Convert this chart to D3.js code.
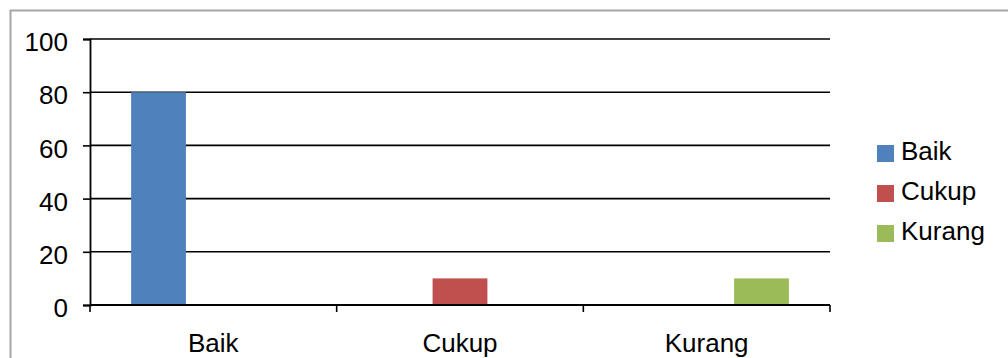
<!DOCTYPE html>
<html>
<head>
<meta charset="utf-8">
<script src="https://cdn.jsdelivr.net/npm/d3@7"></script>
<style>
  html, body { margin: 0; padding: 0; background: #fff; }
  svg { display: block; font-family: "Liberation Sans", Arial, sans-serif; }
</style>
</head>
<body>
<svg id="chart" width="1008" height="358"></svg>
<script>
// Categories on the x axis
const categories = ["Baik", "Cukup", "Kurang"];
// Series names (legend order)
const seriesNames = ["Baik", "Cukup", "Kurang"];
// Values per series, one entry per category
const seriesBaik = [80, 0, 0];
const seriesCukup = [0, 10, 0];
const seriesKurang = [0, 0, 10];
// Y-axis tick values
const yTicks = [0, 20, 40, 60, 80, 100];

const seriesValues = [seriesBaik, seriesCukup, seriesKurang];
const colors = ["#4F81BD", "#C0504D", "#9BBB59"];

const svg = d3.select("#chart");

// Outer chart frame
svg.append("rect")
  .attr("x", 10.5).attr("y", 10.5)
  .attr("width", 1010).attr("height", 360)
  .attr("fill", "none").attr("stroke", "#a6a6a6").attr("stroke-width", 2);

const plot = { left: 90, right: 830, top: 39, bottom: 305 };

const y = d3.scaleLinear().domain([0, 100]).range([plot.bottom, plot.top]);
const x0 = d3.scaleBand().domain(categories).range([plot.left, plot.right])
  .paddingInner(0).paddingOuter(0);
// 150% gap width: group of 3 bars occupies 3/4.5 of the category
const x1 = d3.scaleBand().domain(seriesNames)
  .range([x0.bandwidth() * 0.75 / 4.5, x0.bandwidth() - x0.bandwidth() * 0.75 / 4.5])
  .padding(0);

// Horizontal gridlines
svg.append("g")
  .selectAll("line")
  .data(yTicks)
  .join("line")
  .attr("x1", plot.left).attr("x2", plot.right)
  .attr("y1", d => y(d)).attr("y2", d => y(d))
  .attr("stroke", "#000").attr("stroke-width", 1.6);

// Bars
const groups = svg.append("g")
  .selectAll("g")
  .data(categories)
  .join("g")
  .attr("transform", d => `translate(${x0(d)},0)`);

groups.selectAll("rect")
  .data((c, ci) => seriesNames.map((s, si) => ({ s, si, v: seriesValues[si][ci] })))
  .join("rect")
  .attr("x", d => x1(d.s))
  .attr("width", x1.bandwidth())
  .attr("y", d => y(d.v))
  .attr("height", d => y(0) - y(d.v))
  .attr("fill", d => colors[d.si]);

// Y axis
const yAxis = svg.append("g")
  .attr("transform", `translate(${plot.left},0)`)
  .call(d3.axisLeft(y).tickValues(yTicks).tickSize(7).tickPadding(15).tickFormat(d3.format("d")));
yAxis.select(".domain").attr("stroke", "#000").attr("stroke-width", 1.8);
yAxis.selectAll(".tick line").attr("stroke", "#000").attr("stroke-width", 1.6);
yAxis.selectAll(".tick text")
  .attr("font-size", 26).attr("fill", "#000")
  .attr("font-family", "Liberation Sans, Arial, sans-serif")
  .attr("dy", "0.45em");

// X axis with ticks on category boundaries
const boundaries = [plot.left, ...categories.map(c => x0(c) + x0.bandwidth())];
const xAxis = svg.append("g");
xAxis.append("line")
  .attr("x1", plot.left).attr("x2", plot.right)
  .attr("y1", plot.bottom).attr("y2", plot.bottom)
  .attr("stroke", "#000").attr("stroke-width", 1.8);
xAxis.selectAll("line.tick")
  .data(boundaries)
  .join("line")
  .attr("class", "tick")
  .attr("x1", d => d).attr("x2", d => d)
  .attr("y1", plot.bottom).attr("y2", plot.bottom + 7)
  .attr("stroke", "#000").attr("stroke-width", 1.6);
xAxis.selectAll("text")
  .data(categories)
  .join("text")
  .attr("x", d => x0(d) + x0.bandwidth() / 2)
  .attr("y", 352)
  .attr("text-anchor", "middle")
  .attr("font-size", 26)
  .attr("fill", "#000")
  .text(d => d);

// Legend
const legend = svg.append("g");
const legendY = [145, 185, 225];
seriesNames.forEach((s, i) => {
  legend.append("rect")
    .attr("x", 877).attr("y", legendY[i])
    .attr("width", 17).attr("height", 17)
    .attr("fill", colors[i]);
  legend.append("text")
    .attr("x", 901).attr("y", legendY[i] + 15)
    .attr("font-size", 26)
    .attr("fill", "#000")
    .text(s);
});
</script>
</body>
</html>
